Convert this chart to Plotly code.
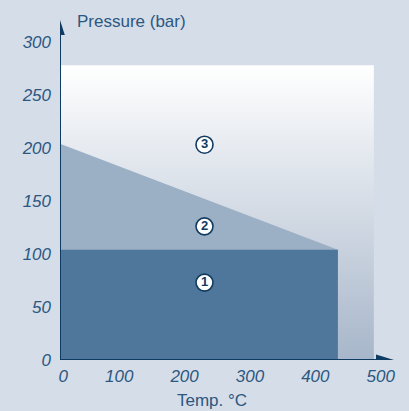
import plotly.graph_objects as go

# ---- data ----
x_ticks = [0, 100, 200, 300, 400, 500]
y_ticks = [0, 50, 100, 150, 200, 250, 300]

zone3_temp = [0, 0, 480, 480]          # outer envelope
zone3_pres = [0, 278, 278, 0]
zone2_temp = [0, 0, 425, 425]          # sloped zone
zone2_pres = [0, 204, 104, 0]
zone1_temp = [0, 0, 425, 425]          # base zone
zone1_pres = [0, 104, 104, 0]

label_temp = [221, 221, 221]
label_pres = [73, 126, 203]
label_text = ["1", "2", "3"]

BG = "#d5dde9"
NAVY = "#0d3b62"
TXT = "#2c5780"

fig = go.Figure()

def closed(a):
    return list(a) + [a[0]]

fig.add_trace(go.Scatter(
    x=closed(zone3_temp), y=closed(zone3_pres), mode="lines", fill="toself",
    line=dict(width=0), hoverinfo="skip",
    fillgradient=dict(type="vertical", colorscale=[[0, "#a7b6ca"], [1, "#ffffff"]]),
))
fig.add_trace(go.Scatter(
    x=closed(zone2_temp), y=closed(zone2_pres), mode="lines", fill="toself",
    line=dict(width=0), fillcolor="#9bb0c5", hoverinfo="skip",
))
fig.add_trace(go.Scatter(
    x=closed(zone1_temp), y=closed(zone1_pres), mode="lines", fill="toself",
    line=dict(width=0), fillcolor="#4f769b", hoverinfo="skip",
))
fig.add_trace(go.Scatter(
    x=label_temp, y=label_pres, mode="markers+text", text=label_text,
    textposition="middle center",
    textfont=dict(family="Liberation Sans", size=13, color="#123b60", weight="bold"),
    marker=dict(size=17, color="white", line=dict(color="#123b60", width=1.6)),
    hoverinfo="skip",
))

# axis lines with arrows
fig.add_shape(type="line", xref="x", yref="y", x0=0, y0=0, x1=500, y1=0,
              line=dict(color=NAVY, width=2))
fig.add_shape(type="line", xref="x", yref="y", x0=0, y0=0, x1=0, y1=312,
              line=dict(color=NAVY, width=2))
fig.add_shape(type="path", xref="x", yref="y", xsizemode="pixel", ysizemode="pixel",
              xanchor=0, yanchor=0, path="M 316,-5.5 L 334,0 L 316,5.5 Z",
              fillcolor=NAVY, line=dict(width=0))
fig.add_shape(type="path", xref="x", yref="y", xsizemode="pixel", ysizemode="pixel",
              xanchor=0, yanchor=0, path="M -4.8,325 L 0,340 L 4.8,325 Z",
              fillcolor=NAVY, line=dict(width=0))

fig.add_annotation(text="Pressure (bar)", xref="paper", yref="paper",
                   x=15 / 340, y=1 - 12 / 350, xanchor="left", yanchor="middle",
                   showarrow=False, font=dict(family="Liberation Sans", size=17, color=TXT))
fig.add_annotation(text="Temp. °C", xref="paper", yref="paper",
                   x=(212 - 60) / 340, y=-(400 - 360) / 350, xanchor="center", yanchor="middle",
                   showarrow=False, font=dict(family="Liberation Sans", size=17, color=TXT))

tickfont = dict(family="Liberation Sans", size=17, color=TXT, style="italic")
fig.update_layout(
    width=409, height=411,
    margin=dict(l=60, r=9, t=10, b=51, autoexpand=False),
    paper_bgcolor=BG, plot_bgcolor=BG,
    showlegend=False,
    xaxis=dict(range=[0, 520], tickvals=x_ticks, ticktext=[str(v) for v in x_ticks],
               showgrid=False, zeroline=False, showline=False, ticks="",
               tickfont=tickfont, ticklabelposition="outside left", ticklabelshift=8,
               ticklabelstandoff=4, fixedrange=True, automargin=False),
    yaxis=dict(range=[0, 330], tickvals=y_ticks, ticktext=[str(v) for v in y_ticks],
               showgrid=False, zeroline=False, showline=False, ticks="",
               tickfont=tickfont, ticklabelstandoff=8, fixedrange=True, automargin=False),
)

fig.write_html(
    "out.html",
    config={"displayModeBar": False},
    post_script="document.body.style.margin='0';document.body.style.background='%s';" % BG,
)
